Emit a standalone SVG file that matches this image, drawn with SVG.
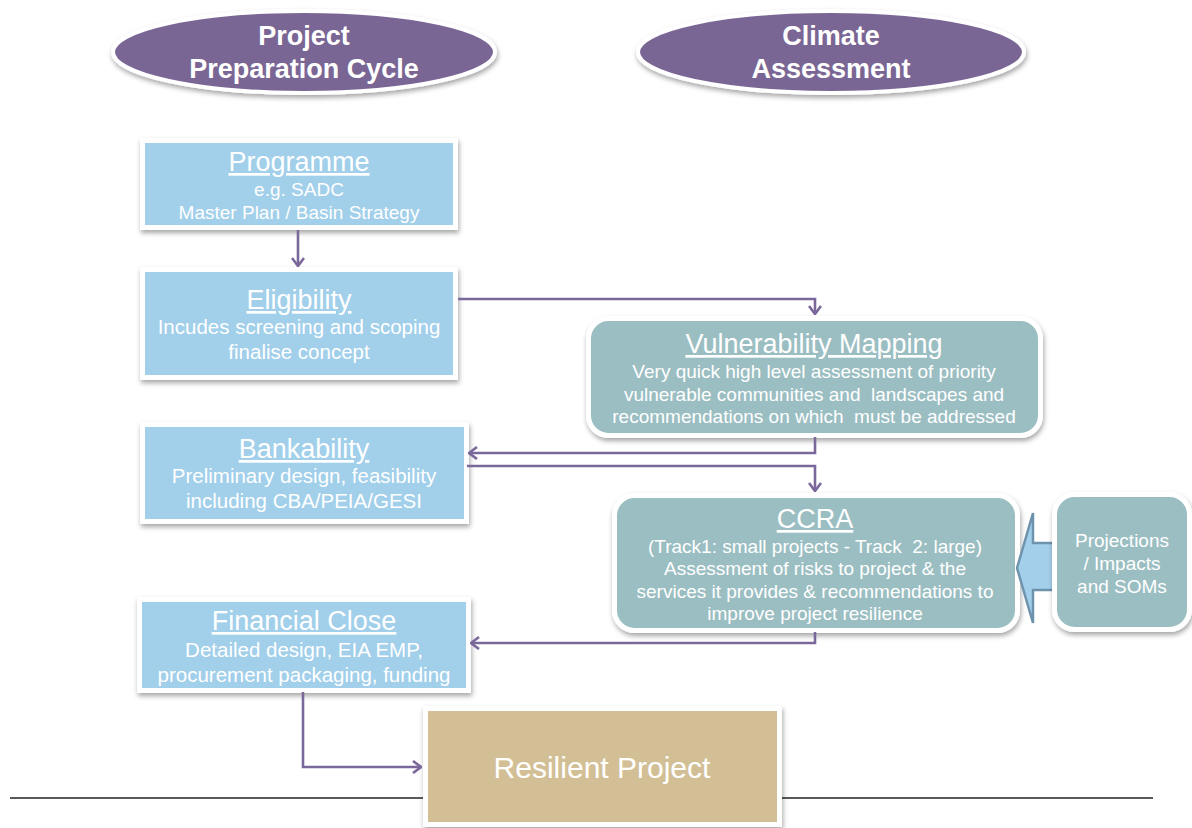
<svg xmlns="http://www.w3.org/2000/svg" width="1192" height="828" viewBox="0 0 1192 828">
  <style>
    text { font-family: "Liberation Sans", Arial, sans-serif; fill: #ffffff; text-anchor: middle; }
    .head { font-size: 27px; font-weight: bold; }
    .title { font-size: 27px; text-decoration: underline; }
    .sub { font-size: 20.5px; }
    .sub19 { font-size: 19px; }
    .blue { fill: #a2cfea; stroke: #ffffff; stroke-width: 5; filter: url(#shadow); }
    .teal { fill: #9bbec2; stroke: #ffffff; stroke-width: 5; filter: url(#shadow); }
    .tan { fill: #d3bf96; stroke: #ffffff; stroke-width: 5; filter: url(#shadow); }
    .oval { fill: #7a6694; stroke: #ffffff; stroke-width: 4; filter: url(#shadow); }
    .conn { fill: none; stroke: #7b689a; stroke-width: 2.6; marker-end: url(#chev); }
  </style>
  <defs>
    <filter id="shadow" x="-10%" y="-20%" width="120%" height="150%">
      <feDropShadow dx="1" dy="3" stdDeviation="2.5" flood-color="#000000" flood-opacity="0.35"/>
    </filter>
    <marker id="chev" viewBox="0 0 10 14" refX="9" refY="7" markerWidth="10" markerHeight="14" orient="auto" markerUnits="userSpaceOnUse">
      <path d="M1,1 L9,7 L1,13" fill="none" stroke="#7b689a" stroke-width="2.6"/>
    </marker>
  </defs>

  <rect width="1192" height="828" fill="#ffffff"/>

  <!-- baseline rule, passes behind the result box -->
  <line x1="10" y1="798" x2="1153" y2="798" stroke="#222222" stroke-width="1.5"/>

  <!-- column headers -->
  <g id="header-project">
    <ellipse class="oval" cx="304" cy="52" rx="191" ry="41"/>
    <text class="head" x="304" y="45">Project</text>
    <text class="head" x="304" y="78">Preparation Cycle</text>
  </g>
  <g id="header-climate">
    <ellipse class="oval" cx="831" cy="52" rx="193" ry="41"/>
    <text class="head" x="831" y="45">Climate</text>
    <text class="head" x="831" y="78">Assessment</text>
  </g>

  <!-- project preparation steps -->
  <g id="programme">
    <rect class="blue" x="142.5" y="140.5" width="313" height="87"/>
    <text class="title" x="299" y="171">Programme</text>
    <text class="sub19" x="299" y="196">e.g. SADC</text>
    <text class="sub19" x="299" y="219">Master Plan / Basin Strategy</text>
  </g>
  <g id="eligibility">
    <rect class="blue" x="142.5" y="269.5" width="313" height="108"/>
    <text class="title" x="299" y="309">Eligibility</text>
    <text class="sub" x="299" y="334">Incudes screening and scoping</text>
    <text class="sub" x="299" y="359">finalise concept</text>
  </g>
  <g id="bankability">
    <rect class="blue" x="142.5" y="424.5" width="324" height="97"/>
    <text class="title" x="304" y="458">Bankability</text>
    <text class="sub" x="304" y="483">Preliminary design, feasibility</text>
    <text class="sub" x="304" y="508">including CBA/PEIA/GESI</text>
  </g>
  <g id="financial-close">
    <rect class="blue" x="139.5" y="599.5" width="329" height="91"/>
    <text class="title" x="304" y="630">Financial Close</text>
    <text class="sub" x="304" y="657">Detailed design, EIA EMP,</text>
    <text class="sub" x="304" y="682">procurement packaging, funding</text>
  </g>
  <g id="resilient-project">
    <rect class="tan" x="425.5" y="708.5" width="354" height="116"/>
    <text x="602" y="778" style="font-size:30px">Resilient Project</text>
  </g>

  <!-- climate assessment steps -->
  <g id="vulnerability-mapping">
    <rect class="teal" x="588.5" y="318.5" width="452" height="117" rx="20"/>
    <text class="title" x="814" y="353">Vulnerability Mapping</text>
    <text class="sub19" x="814" y="378">Very quick high level assessment of priority</text>
    <text class="sub19" x="814" y="401" xml:space="preserve">vulnerable communities and  landscapes and</text>
    <text class="sub19" x="814" y="423" xml:space="preserve">recommendations on which  must be addressed</text>
  </g>
  <g id="ccra">
    <rect class="teal" x="614.5" y="495.5" width="403" height="135" rx="20"/>
    <text class="title" x="815" y="528">CCRA</text>
    <text class="sub19" x="815" y="553" xml:space="preserve">(Track1: small projects - Track  2: large)</text>
    <text class="sub19" x="815" y="575">Assessment of risks to project &amp; the</text>
    <text class="sub19" x="815" y="598">services it provides &amp; recommendations to</text>
    <text class="sub19" x="815" y="620">improve project resilience</text>
  </g>
  <g id="input-arrow">
    <polygon points="1017,568 1033,513 1033,543 1056,543 1056,590 1033,590 1033,623" fill="#a3cfeb" stroke="#6e93ad" stroke-width="2.5" stroke-linejoin="miter"/>
  </g>
  <g id="projections">
    <rect class="teal" x="1054.5" y="494.5" width="135" height="135" rx="20"/>
    <text class="sub19" x="1122" y="547">Projections</text>
    <text class="sub19" x="1122" y="570">/ Impacts</text>
    <text class="sub19" x="1122" y="593">and SOMs</text>
  </g>

  <!-- connectors -->
  <g id="connectors">
    <path class="conn" d="M298,230 V266"/>
    <path class="conn" d="M458,299 H815 V314"/>
    <path class="conn" d="M815,437 V453 H469"/>
    <path class="conn" d="M467,466 H815 V491"/>
    <path class="conn" d="M815,632 V643 H471"/>
    <path class="conn" d="M303,692 V767 H421"/>
  </g>
</svg>
